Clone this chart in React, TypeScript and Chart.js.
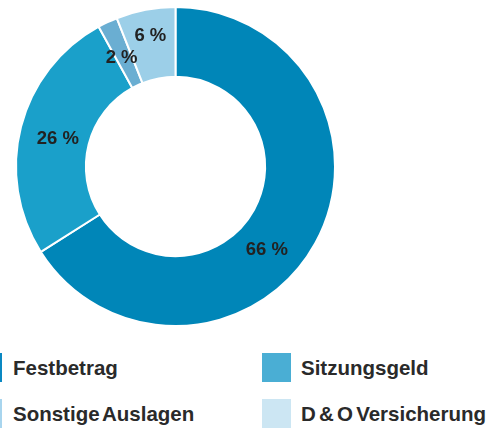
import React, { useEffect, useRef } from "react";
import { Chart, registerables } from "chart.js";

Chart.register(...registerables);

const categories = ["Festbetrag", "Sitzungsgeld", "Sonstige Auslagen", "D & O Versicherung"];
const values = [66, 26, 2, 6];
const valueLabels = ["66 %", "26 %", "2 %", "6 %"];
const arcColors = ["#0086b8", "#1aa0ca", "#6aaed2", "#9ccfe8"];
const legendColors = ["#0a88c2", "#4aaed4", "#a8d5ee", "#cce6f3"];
// label placement within each arc: fraction along the arc, fraction across ring
const labelAlong = [0.556, 0.49, 0.35, 0.5];
const labelAcross = [0.48, 0.45, 0.46, 0.64];

const labelPlugin = {
  id: "arcLabels",
  afterDatasetsDraw(chart: any) {
    const ctx = chart.ctx;
    const meta = chart.getDatasetMeta(0);
    ctx.save();
    ctx.font = "bold 18.5px 'Liberation Sans', Arial, sans-serif";
    ctx.fillStyle = "#222222";
    ctx.textAlign = "center";
    ctx.textBaseline = "middle";
    meta.data.forEach((arc: any, i: number) => {
      const p = arc.getProps(["startAngle", "endAngle", "innerRadius", "outerRadius", "x", "y"], true);
      const a = p.startAngle + (p.endAngle - p.startAngle) * labelAlong[i];
      const r = p.innerRadius + (p.outerRadius - p.innerRadius) * labelAcross[i];
      ctx.fillText(valueLabels[i], p.x + Math.cos(a) * r, p.y + Math.sin(a) * r + 1);
    });
    ctx.restore();
  },
};

function Legend() {
  const items = [
    { i: 0, boxX: -27, textX: 13, top: 353 },
    { i: 1, boxX: 262, textX: 301, top: 353 },
    { i: 2, boxX: -27, textX: 13, top: 399 },
    { i: 3, boxX: 262, textX: 301, top: 399 },
  ];
  return (
    <>
      {items.map((it) => (
        <React.Fragment key={it.i}>
          <div
            style={{
              position: "absolute",
              left: it.boxX,
              top: it.top,
              width: 29,
              height: 29,
              background: legendColors[it.i],
            }}
          />
          <div
            style={{
              position: "absolute",
              left: it.textX,
              top: it.top,
              height: 29,
              lineHeight: "29px",
              fontFamily: "'Liberation Sans', Arial, sans-serif",
              fontWeight: "bold",
              fontSize: "20.5px",
              wordSpacing: "-2.5px",
              color: "#2a2a2a",
              whiteSpace: "nowrap",
            }}
          >
            {categories[it.i]}
          </div>
        </React.Fragment>
      ))}
    </>
  );
}

export default function App() {
  const ref = useRef<HTMLCanvasElement | null>(null);
  useEffect(() => {
    if (!ref.current) return;
    const chart = new Chart(ref.current, {
      type: "doughnut",
      data: {
        labels: categories,
        datasets: [
          {
            data: values,
            backgroundColor: arcColors,
            borderColor: "#ffffff",
            borderWidth: 2,
          },
        ],
      },
      options: {
        animation: false,
        responsive: false,
        maintainAspectRatio: false,
        radius: 159.5,
        cutout: 93,
        layout: { padding: 0 },
        plugins: {
          legend: { display: false },
          tooltip: { enabled: false },
        },
      },
      plugins: [labelPlugin],
    });
    return () => chart.destroy();
  }, []);
  return (
    <div
      style={{
        position: "fixed",
        left: 0,
        top: 0,
        width: 487,
        height: 428,
        background: "#ffffff",
        overflow: "hidden",
      }}
    >
      <canvas
        ref={ref}
        width={351}
        height={333}
        style={{ position: "absolute", left: 0, top: 0, width: 351, height: 333 }}
      />
      <Legend />
    </div>
  );
}
